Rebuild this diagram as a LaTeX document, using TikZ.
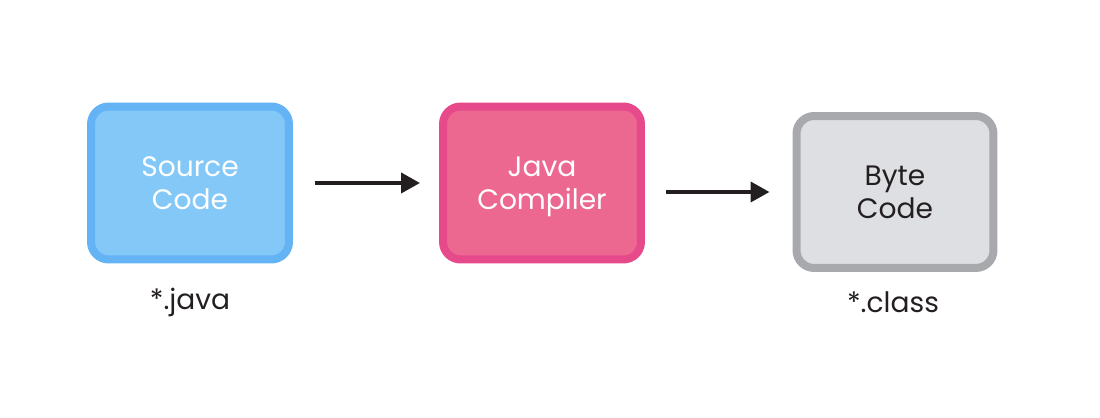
\documentclass[tikz,border=0pt]{standalone}
\usepackage{fontspec}
\setmainfont{Poppins}
\usepackage{xcolor}
\usepackage{tikz}
\usetikzlibrary{arrows.meta, positioning, calc}
\definecolor{srcfill}{HTML}{84C8F8}
\definecolor{srcline}{HTML}{64B4F5}
\definecolor{cmpfill}{HTML}{EC6890}
\definecolor{cmpline}{HTML}{E64A8A}
\definecolor{bytefill}{HTML}{DEDFE2}
\definecolor{byteline}{HTML}{A8A9AC}
\definecolor{inkdark}{HTML}{231F20}

\begin{document}
\begin{tikzpicture}[
    x=0.02cm, y=0.02cm,
    stage/.style={rectangle, rounded corners=10pt, line width=0.16cm, minimum width=3.96cm, minimum height=3.06cm, align=center, text depth=0pt, font=\fontsize{16}{19}\selectfont},
    arrow/.style={-{Triangle[length=0.38cm, width=0.4cm]}, line width=0.08cm, color=inkdark},
    ext/.style={font=\fontsize{16}{19}\selectfont, color=inkdark}
]
\useasboundingbox (0,0) rectangle (1100,418);

\node[stage, draw=srcline, fill=srcfill, text=white] (src) at (190,235) {Source\\Code};
\node[stage, draw=cmpline, fill=cmpfill, text=white] (cmp) at (542,235) {Java\\Compiler};
\node[stage, draw=byteline, fill=bytefill, text=inkdark, minimum width=3.94cm, minimum height=3.04cm] (byte) at (895,226) {Byte\\Code};

\draw[arrow, shorten <=0.44cm, shorten >=0.38cm] (src) -- (cmp);
\draw[arrow, shorten <=0.42cm, shorten >=0.46cm] (cmp.east |- byte) -- (byte);

\node[ext] (srcext) at (190,116) {*.java};
\node[ext] (byteext) at (893,116) {*.class};

\end{tikzpicture}
\end{document}
